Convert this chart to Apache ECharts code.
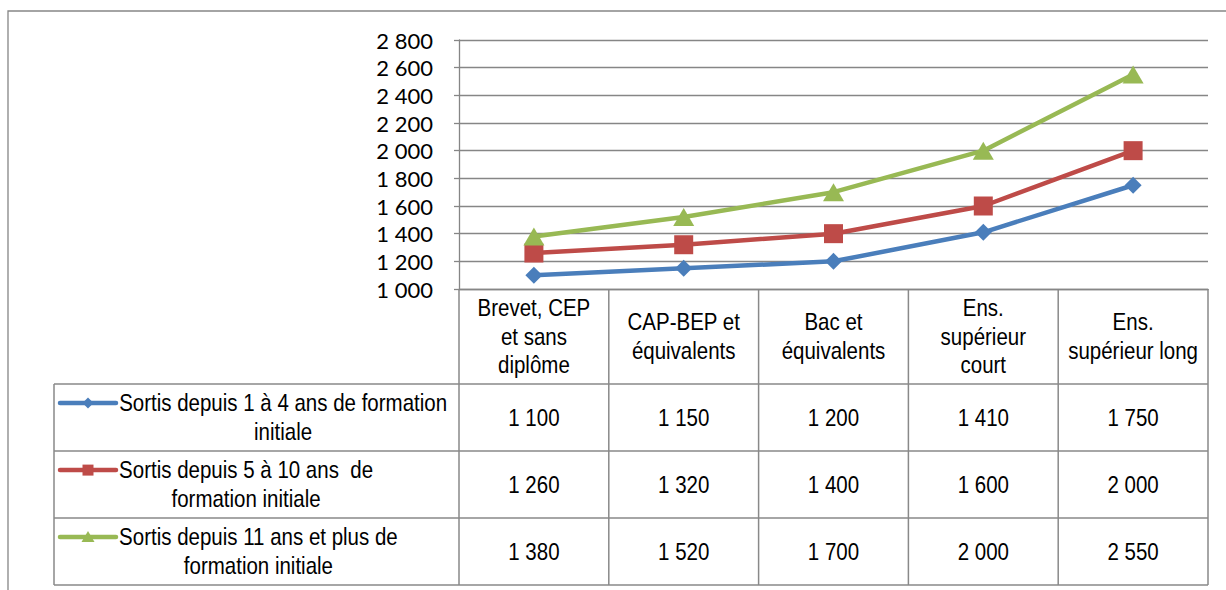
<!DOCTYPE html>
<html>
<head>
<meta charset="utf-8">
<script src="https://cdn.jsdelivr.net/npm/echarts@6/dist/echarts.min.js"></script>
<style>
html, body { margin: 0; padding: 0; background: #fff; }
#chart { width: 1226px; height: 590px; }
</style>
</head>
<body>
<div id="chart"></div>
<script>
// catégories (en-tête du tableau) et séries
var categories = ['Brevet, CEP\net sans\ndiplôme', 'CAP-BEP et\néquivalents', 'Bac et\néquivalents', 'Ens.\nsupérieur\ncourt', 'Ens.\nsupérieur long'];
var seriesNames = ['Sortis depuis 1 à 4 ans de formation initiale', 'Sortis depuis 5 à 10 ans  de formation initiale', 'Sortis depuis 11 ans et plus de formation initiale'];
var legendLines = ['Sortis depuis 1 à 4 ans de formation\ninitiale', 'Sortis depuis 5 à 10 ans  de\nformation initiale', 'Sortis depuis 11 ans et plus de\nformation initiale'];
var sortis1a4 = [1100, 1150, 1200, 1410, 1750];
var sortis5a10 = [1260, 1320, 1400, 1600, 2000];
var sortis11plus = [1380, 1520, 1700, 2000, 2550];
var yMin = 1000, yMax = 2800, yStep = 200;

var colors = ['#4a7ebb', '#be4b48', '#98b954'];
var symbols = ['diamond', 'rect', 'triangle'];
var symbolSizes = [17, 19, [21, 18]];
var allData = [sortis1a4, sortis5a10, sortis11plus];
var gridColor = '#868686';
var tableFont = '20.5px "Liberation Sans", Arial, sans-serif';
var stretch = 1.2;

function fmt(v) {
    return String(v).replace(/\B(?=(\d{3})+(?!\d))/g, ' ');
}

var myChart = echarts.init(document.getElementById('chart'), null, {renderer: 'svg'});

var series = [];
for (var s = 0; s < allData.length; s++) {
    series.push({
        name: seriesNames[s],
        type: 'line',
        data: allData[s],
        symbol: symbols[s],
        symbolSize: symbolSizes[s],
        lineStyle: {color: colors[s], width: 4.5},
        itemStyle: {color: colors[s], borderWidth: 0},
        z: 3 + s
    });
}

var option = {
    animation: false,
    backgroundColor: '#fff',
    grid: {left: 459, right: 18, top: 40, bottom: 301},
    xAxis: {
        type: 'category',
        data: categories,
        boundaryGap: true,
        axisLine: {lineStyle: {color: gridColor, width: 1.3}},
        axisTick: {show: false},
        axisLabel: {show: false}
    },
    yAxis: {
        type: 'value',
        min: yMin,
        max: yMax,
        interval: yStep,
        axisLine: {show: true, lineStyle: {color: gridColor, width: 1.3}},
        axisTick: {show: true, length: 5, lineStyle: {color: gridColor, width: 1.3}},
        axisLabel: {
            fontFamily: 'Lato, sans-serif',
            fontSize: 22,
            lineHeight: 22,
            color: '#000',
            margin: 26,
            formatter: fmt
        },
        splitLine: {lineStyle: {color: gridColor, width: 1.3}}
    },
    series: series
};
myChart.setOption(option);

// tableau de données sous le graphique
var c0 = myChart.convertToPixel({xAxisIndex: 0}, 0);
var band = myChart.convertToPixel({xAxisIndex: 0}, 1) - c0;
var axisY = myChart.convertToPixel({yAxisIndex: 0}, yMin);
var tableLeft = 54;
var headerBottom = axisY + 95;
var rowH = 67;
var colX = [];
for (var k = 0; k <= categories.length; k++) colX.push(c0 - band / 2 + k * band);
var tableRight = colX[colX.length - 1];
var tableBottom = headerBottom + rowH * allData.length;

var lineStyle = {stroke: '#898989', lineWidth: 1.5};
var g = [];
// cadre extérieur
g.push({type: 'rect', shape: {x: 8, y: 11, width: 1400, height: 800}, style: {fill: 'none', stroke: gridColor, lineWidth: 1.3}, z: 0});
for (k = 0; k < colX.length; k++) {
    g.push({type: 'line', shape: {x1: colX[k], y1: axisY, x2: colX[k], y2: tableBottom}, style: lineStyle});
}
g.push({type: 'line', shape: {x1: tableLeft, y1: headerBottom, x2: tableLeft, y2: tableBottom}, style: lineStyle});
for (var r = 0; r <= allData.length; r++) {
    var yy = headerBottom + r * rowH;
    g.push({type: 'line', shape: {x1: tableLeft, y1: yy, x2: tableRight, y2: yy}, style: lineStyle});
}

function stretchedText(txt, x, y) {
    return {
        type: 'text', x: x, y: y, scaleY: stretch,
        style: {text: txt, font: tableFont, fill: '#000', textAlign: 'center', textVerticalAlign: 'middle', lineHeight: 24}
    };
}

// en-têtes
for (var i = 0; i < categories.length; i++) {
    g.push(stretchedText(categories[i], c0 + i * band, (axisY + headerBottom) / 2));
}
// valeurs
for (r = 0; r < allData.length; r++) {
    var cy = headerBottom + r * rowH + rowH / 2;
    for (i = 0; i < allData[r].length; i++) {
        g.push(stretchedText(fmt(allData[r][i]), c0 + i * band, cy));
    }
}

// légende dans la première colonne
var ctx = document.createElement('canvas').getContext('2d');
ctx.font = tableFont;
var textLeft = 119;
for (r = 0; r < legendLines.length; r++) {
    var parts = legendLines[r].split('\n');
    var w = 0;
    for (var p = 0; p < parts.length; p++) w = Math.max(w, ctx.measureText(parts[p]).width);
    var rc = headerBottom + r * rowH + rowH / 2;
    g.push(stretchedText(legendLines[r], textLeft + w / 2, rc));
    var ky = rc - (parts.length - 1) * 24 * stretch / 2;
    g.push({type: 'line', shape: {x1: 60, y1: ky, x2: 116, y2: ky}, style: {stroke: colors[r], lineWidth: 4.5, lineCap: 'round'}});
    var mx = 88;
    if (symbols[r] === 'diamond') {
        g.push({type: 'polygon', shape: {points: [[mx, ky - 5.5], [mx + 5.5, ky], [mx, ky + 5.5], [mx - 5.5, ky]]}, style: {fill: colors[r]}});
    } else if (symbols[r] === 'rect') {
        g.push({type: 'rect', shape: {x: mx - 5.5, y: ky - 5.5, width: 11, height: 11}, style: {fill: colors[r]}});
    } else {
        g.push({type: 'polygon', shape: {points: [[mx, ky - 6], [mx + 6.5, ky + 5], [mx - 6.5, ky + 5]]}, style: {fill: colors[r]}});
    }
}

myChart.setOption({graphic: g});
</script>
</body>
</html>
